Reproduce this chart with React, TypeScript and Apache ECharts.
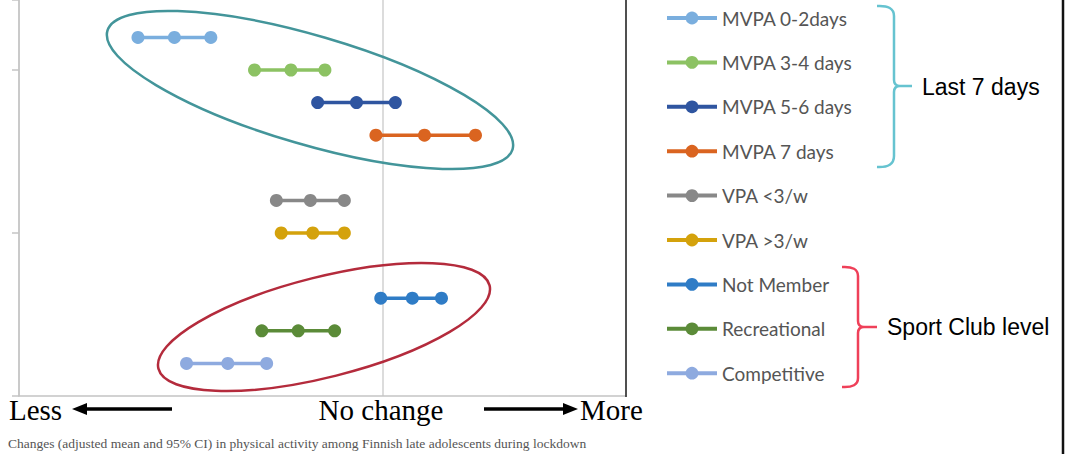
import React, { useEffect, useRef } from "react";
import * as echarts from "echarts";

const categories = [
  "MVPA 0-2days",
  "MVPA 3-4 days",
  "MVPA 5-6 days",
  "MVPA 7 days",
  "VPA <3/w",
  "VPA >3/w",
  "Not Member",
  "Recreational",
  "Competitive",
];
const rowPositions = [2.2, 2.0, 1.8, 1.6, 1.2, 1.0, 0.6, 0.4, 0.2];
const lowerCI = [-1.01, -0.53, -0.27, -0.03, -0.44, -0.42, -0.01, -0.5, -0.81];
const means = [-0.86, -0.38, -0.11, 0.17, -0.3, -0.29, 0.12, -0.35, -0.64];
const upperCI = [-0.71, -0.24, 0.05, 0.38, -0.16, -0.16, 0.24, -0.2, -0.48];
const colors = [
  "#7aaede",
  "#8cc263",
  "#2f55a0",
  "#da6420",
  "#888888",
  "#d4a20c",
  "#2f7cc6",
  "#5b8b38",
  "#8eaadf",
];
const bottomLabels = ["Less", "No change", "More"];
const groupLabels = ["Last 7 days", "Sport Club level"];
const caption =
  "Changes (adjusted mean and 95% CI) in physical activity among Finnish late adolescents during lockdown";

const tealBracket =
  "M877 6 Q894 5 894 16 L894 80 Q894 86 900 86 L912 86 M900 86 Q894 86 894 92 L894 156 Q894 168 877 167";
const redBracket =
  "M842 267 Q858 266 858 276 L858 321 Q858 327 864 327 L877 327 M864 327 Q858 327 858 333 L858 378 Q858 388 842 387";

let registered = false;
function registerShapes() {
  if (registered) return;
  registered = true;
  echarts.graphic.registerShape("tealBracket", echarts.graphic.extendPath(tealBracket, {}) as any);
  echarts.graphic.registerShape("redBracket", echarts.graphic.extendPath(redBracket, {}) as any);
}

export default function App() {
  const ref = useRef<HTMLDivElement>(null);
  useEffect(() => {
    if (!ref.current) return;
    registerShapes();
    const chart = echarts.init(ref.current, undefined, { renderer: "svg" });
    const series = categories.map((name, i) => ({
      name,
      type: "line",
      data: [
        [lowerCI[i], rowPositions[i]],
        [means[i], rowPositions[i]],
        [upperCI[i], rowPositions[i]],
      ],
      symbol: "circle",
      symbolSize: 13,
      lineStyle: { width: 3.5, color: colors[i] },
      itemStyle: { color: colors[i] },
      z: 3,
    }));
    const serif = "'Liberation Serif', 'Times New Roman', serif";
    chart.setOption({
      animation: false,
      grid: { left: 19, right: 443, top: 0, bottom: 58 },
      xAxis: {
        type: "value",
        min: -1.5,
        max: 1.0,
        interval: 1.5,
        axisLine: { show: true, onZero: false, lineStyle: { color: "#c4c4c4", width: 1.5 } },
        axisTick: { show: false },
        axisLabel: { show: false },
        splitLine: { show: true, lineStyle: { color: "#d0d0d0", width: 1.5 } },
      },
      yAxis: {
        type: "value",
        min: 0,
        max: 396 / 163,
        interval: 1,
        axisLine: { show: true, onZero: false, lineStyle: { color: "#c4c4c4", width: 1.5 } },
        axisTick: { show: true, length: 7, lineStyle: { color: "#c4c4c4", width: 1.5 } },
        axisLabel: { show: false },
        splitLine: { show: false },
      },
      legend: {
        orient: "vertical",
        left: 665,
        top: 8,
        padding: 0,
        itemWidth: 50,
        itemHeight: 16,
        itemGap: 24.4,
        selectedMode: false,
        data: categories,
        lineStyle: { width: 4 },
        textStyle: {
          color: "#555555",
          fontFamily: "Lato, 'Open Sans', sans-serif",
          fontSize: 19,
          lineHeight: 20,
        },
      },
      series,
      graphic: [
        {
          type: "ellipse",
          shape: { cx: 0, cy: 0, rx: 211, ry: 54.5 },
          x: 310,
          y: 90,
          rotation: (-16.3 * Math.PI) / 180,
          style: { fill: "none", stroke: "#43959a", lineWidth: 2.5 },
          z: 10,
        },
        {
          type: "ellipse",
          shape: { cx: 0, cy: 0, rx: 170.7, ry: 50.1 },
          x: 324,
          y: 327,
          rotation: (14.1 * Math.PI) / 180,
          style: { fill: "none", stroke: "#b42b3c", lineWidth: 2.5 },
          z: 10,
        },
        {
          type: "line",
          shape: { x1: 626, y1: 0, x2: 626, y2: 397 },
          style: { stroke: "#222", lineWidth: 1.5 },
          z: 10,
        },
        {
          type: "line",
          shape: { x1: 1063, y1: 0, x2: 1063, y2: 454 },
          style: { stroke: "#111", lineWidth: 2.5 },
          z: 10,
        },
        {
          type: "tealBracket",
          x: 0,
          y: 0,
          scaleX: 1,
          scaleY: 1,
          style: { fill: "none", stroke: "#66c3d0", lineWidth: 2.5 },
          z: 10,
        },
        {
          type: "redBracket",
          x: 0,
          y: 0,
          scaleX: 1,
          scaleY: 1,
          style: { fill: "none", stroke: "#ef4059", lineWidth: 2.5 },
          z: 10,
        },
        {
          type: "text",
          x: 922,
          y: 87,
          style: {
            text: groupLabels[0],
            fill: "#000",
            font: "23px 'Liberation Sans', Arial, sans-serif",
            textVerticalAlign: "middle",
          },
          z: 10,
        },
        {
          type: "text",
          x: 887,
          y: 327,
          style: {
            text: groupLabels[1],
            fill: "#000",
            font: "23px 'Liberation Sans', Arial, sans-serif",
            textVerticalAlign: "middle",
          },
          z: 10,
        },
        {
          type: "text",
          x: 9,
          y: 410,
          style: {
            text: bottomLabels[0],
            fill: "#000",
            font: `29px ${serif}`,
            textVerticalAlign: "middle",
          },
          z: 10,
        },
        {
          type: "text",
          x: 381,
          y: 410,
          style: {
            text: bottomLabels[1],
            fill: "#000",
            font: `29px ${serif}`,
            textAlign: "center",
            textVerticalAlign: "middle",
          },
          z: 10,
        },
        {
          type: "text",
          x: 580,
          y: 410,
          style: {
            text: bottomLabels[2],
            fill: "#000",
            font: `29px ${serif}`,
            textVerticalAlign: "middle",
          },
          z: 10,
        },
        {
          type: "line",
          shape: { x1: 84, y1: 409, x2: 172, y2: 409 },
          style: { stroke: "#000", lineWidth: 3.5 },
          z: 10,
        },
        {
          type: "polygon",
          shape: { points: [[72, 409], [87, 403], [87, 415]] },
          style: { fill: "#000" },
          z: 10,
        },
        {
          type: "line",
          shape: { x1: 484, y1: 409, x2: 566, y2: 409 },
          style: { stroke: "#000", lineWidth: 3.5 },
          z: 10,
        },
        {
          type: "polygon",
          shape: { points: [[578, 409], [563, 403], [563, 415]] },
          style: { fill: "#000" },
          z: 10,
        },
        {
          type: "text",
          x: 8,
          y: 443,
          style: {
            text: caption,
            fill: "#555",
            font: `13.5px ${serif}`,
            textVerticalAlign: "middle",
          },
          z: 10,
        },
      ],
    });
    return () => chart.dispose();
  }, []);
  return (
    <div
      ref={ref}
      style={{ position: "fixed", left: 0, top: 0, width: 1069, height: 454, background: "#fff" }}
    />
  );
}
